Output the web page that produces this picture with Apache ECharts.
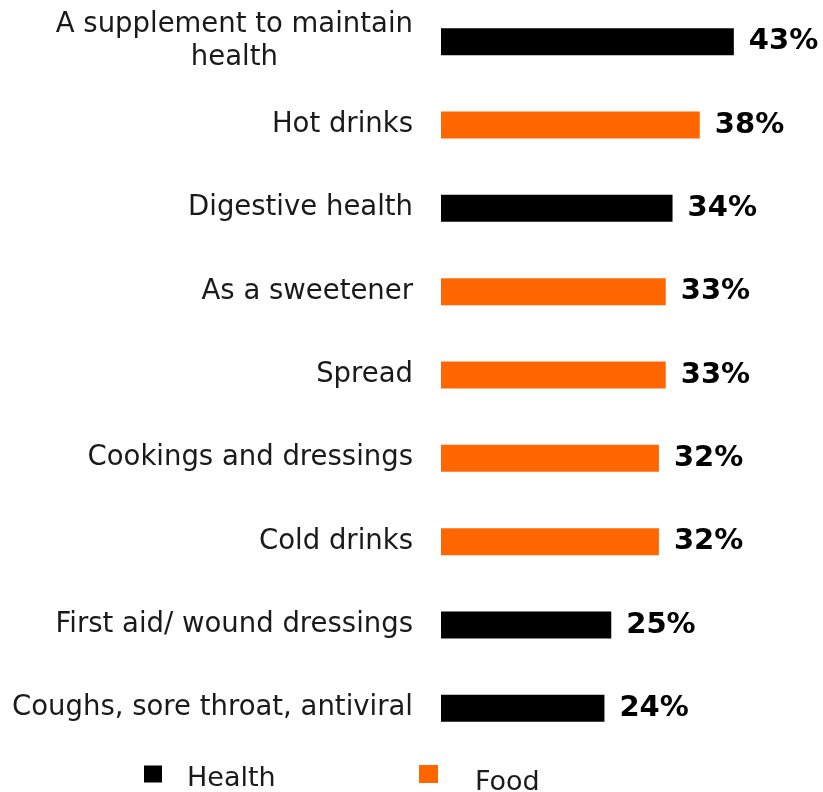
<!DOCTYPE html>
<html>
<head>
<meta charset="utf-8">
<script src="https://cdn.jsdelivr.net/npm/echarts@6/dist/echarts.min.js"></script>
<style>
  html, body { margin: 0; padding: 0; background: #fff; }
  #chart { width: 823px; height: 792px; }
</style>
</head>
<body>
<div id="chart"></div>
<script>
// Uses of the product, share of respondents (%)
const categories = [
  'A supplement to maintain\nhealth',
  'Hot drinks',
  'Digestive health',
  'As a sweetener',
  'Spread',
  'Cookings and dressings',
  'Cold drinks',
  'First aid/ wound dressings',
  'Coughs, sore throat, antiviral'
];
const values = [43, 38, 34, 33, 33, 32, 32, 25, 24];
const groups = ['Health', 'Food', 'Health', 'Food', 'Food', 'Food', 'Food', 'Health', 'Health'];
const groupNames = ['Health', 'Food'];
const groupColors = { Health: '#000000', Food: '#ff6600' };

const FONT = 'DejaVu Sans';
const TEXT_COLOR = '#1a1a1a';

const chart = echarts.init(document.getElementById('chart'));

// One bar series per group; rows of the other group stay empty and the
// two series overlap so every bar sits centred on its category.
const series = groupNames.map(name => ({
  name: name,
  type: 'bar',
  barWidth: 27,
  barGap: '-100%',
  itemStyle: { color: groupColors[name] },
  data: values.map((v, i) => groups[i] === name ? v : '-'),
  label: {
    show: true,
    position: 'right',
    distance: 15,
    formatter: p => p.value + '%',
    color: '#000',
    fontFamily: FONT,
    fontWeight: 'bold',
    fontSize: 29
  }
}));

// Legend entry whose text sits a little below its swatch: a tall spacer
// token sets the line height and the name is aligned to the line bottom.
function legendEntry(name, left, top, size, spacer, gap) {
  return {
    data: [name],
    left: left,
    top: top,
    padding: 0,
    itemWidth: size[0],
    itemHeight: size[1],
    icon: 'rect',
    selectedMode: false,
    formatter: n => '{s| }{t|' + n + '}',
    textStyle: {
      padding: [0, 0, 0, gap],
      rich: {
        s: { height: spacer, fontSize: 1, width: 1 },
        t: { fontFamily: FONT, fontSize: 27, color: TEXT_COLOR, verticalAlign: 'bottom' }
      }
    }
  };
}

chart.setOption({
  animation: false,
  backgroundColor: '#fff',
  grid: { left: 441, top: -3, width: 340.5, height: 753, containLabel: false },
  xAxis: {
    type: 'value',
    min: 0,
    max: 50,
    show: false
  },
  yAxis: {
    type: 'category',
    data: categories,
    inverse: true,
    axisLine: { show: false },
    axisTick: { show: false },
    axisLabel: {
      margin: 28,
      align: 'right',
      color: TEXT_COLOR,
      fontFamily: FONT,
      fontSize: 27.5,
      lineHeight: 33,
      // each line is centred inside the right-aligned label block
      formatter: v => v.split('\n').map(s => '{c|' + s + '}').join('\n'),
      rich: { c: { align: 'center', fontFamily: FONT, fontSize: 27.5, lineHeight: 33, color: TEXT_COLOR } }
    }
  },
  legend: [
    legendEntry('Health', 144, 765, [18, 17], 36, 19),
    legendEntry('Food', 419, 765, [19, 18], 44, 31)
  ],
  series: series
});
</script>
</body>
</html>
